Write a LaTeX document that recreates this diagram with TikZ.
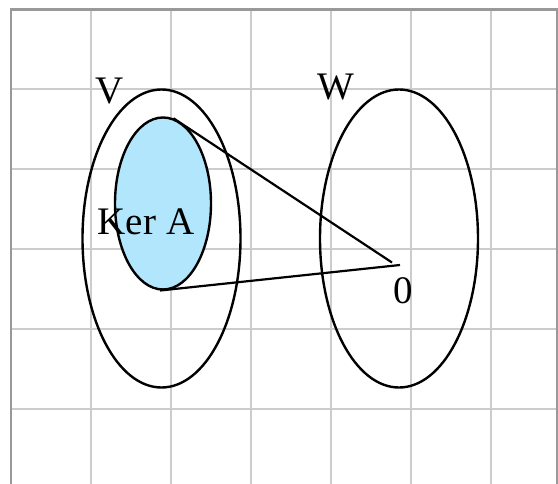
\documentclass[tikz,border=0pt]{standalone}
\usepackage{fontspec}
\setmainfont{Liberation Serif}
\usetikzlibrary{shapes.geometric}
\definecolor{gridgray}{HTML}{CCCCCC}
\definecolor{framegray}{HTML}{999999}
\definecolor{kerblue}{HTML}{B2E6FD}
\begin{document}
\begin{tikzpicture}[x=1pt,y=-1pt,
  setshape/.style={draw=black,line width=2.4pt,shape=ellipse,inner sep=0pt,minimum width=158pt,minimum height=298pt},
  lbl/.style={font=\fontsize{39}{39}\selectfont,inner sep=0pt,anchor=base},
  mapline/.style={draw=black,line width=2.2pt},
  gridline/.style={draw=gridgray,line width=2.2pt},
  frameline/.style={draw=framegray,line width=2.6pt}]
\useasboundingbox (0,0) rectangle (558,484);
\begin{scope}
\clip (0,0) rectangle (558,484);
\foreach \x in {91,171,...,491} \draw[gridline] (\x,9.5) -- (\x,484);
\foreach \y in {89,169,...,409} \draw[gridline] (11,\y) -- (557,\y);
\draw[frameline] (11,484) -- (11,9.5) -- (557,9.5) -- (557,484);
\end{scope}
% white background behind the Ker A label
\fill[white] (92,192) rectangle (200,241);
% sets
\node[setshape] (V) at (161.5,238.5) {};
\node[setshape,fill=kerblue,minimum width=96pt,minimum height=172pt] (K) at (163,203.5) {};
\node[setshape] (W) at (399,238.5) {};
% labels
\node[lbl] (vl) at (110,104) {V};
\node[lbl] (wl) at (335.5,100) {W};
\node[lbl] (kl) at (146,235) {Ker A};
\node[lbl] (zl) at (403,304) {0};
% map lines
\coordinate (z1) at (392,262.5);
\coordinate (z2) at (400,265);
\draw[mapline] (K.83) -- (z1);
\draw[mapline] (K.-92) -- (z2);
\end{tikzpicture}
\end{document}
